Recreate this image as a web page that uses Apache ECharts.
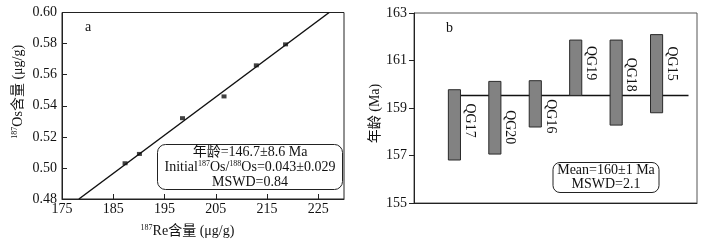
<!DOCTYPE html>
<html>
<head>
<meta charset="utf-8">
<script src="https://cdn.jsdelivr.net/npm/echarts@6/dist/echarts.min.js"></script>
<style>
html,body{margin:0;padding:0;background:#fff;}
#c{width:711px;height:243px;}
</style>
</head>
<body>
<div id="c"></div>
<script>
// ---- Panel a: Re-Os isochron ----
const reContent = [187.3, 190.1, 198.5, 206.6, 212.9, 218.6];
const osContent = [0.503, 0.509, 0.532, 0.546, 0.566, 0.5795];
const isochronRe = [178.3, 227.1];
const isochronOs = [0.48, 0.60];
const reTickLabels = [175, 185, 195, 205, 215, 225];
const reTickMarks = [185, 195, 205, 215, 225];
const osTickLabels = [0.48, 0.50, 0.52, 0.54, 0.56, 0.58, 0.60];

// ---- Panel b: model ages ----
const samples = ['QG17', 'QG20', 'QG16', 'QG19', 'QG18', 'QG15'];
const ageHigh = [159.77, 160.12, 160.15, 161.86, 161.86, 162.09];
const ageLow = [156.81, 157.06, 158.20, 159.53, 158.28, 158.80];
const labelAge = [158.47, 158.19, 158.65, 160.89, 160.40, 160.87];
const ageTickLabels = [155, 157, 159, 161, 163];
const meanAge = 159.53;
const meanSpan = [0.87, 6.79];

const FONT = "'Liberation Serif', 'Noto Sans CJK SC', serif";
const INK = '#111';

const chart = echarts.init(document.getElementById('c'), null, {renderer: 'canvas'});

const scatterData = reContent.map((x, i) => [x, osContent[i]]);
const lineData = isochronRe.map((x, i) => [x, isochronOs[i]]);
const barData = samples.map((s, i) => [i + 1, ageLow[i], ageHigh[i], labelAge[i], s]);

const option = {
  backgroundColor: '#fff',
  animation: false,
  grid: [
    {left: 62, right: 367, top: 12.5, bottom: 41, show: true, borderColor: '#222', borderWidth: 1, backgroundColor: 'transparent'},
    {left: 414, right: 14, top: 13, bottom: 40, show: true, borderColor: '#555', borderWidth: 1, backgroundColor: 'transparent'}
  ],
  xAxis: [
    {
      gridIndex: 0, type: 'value', min: 175, max: 230,
      name: '{s|187}Re含量 (μg/g)', nameLocation: 'middle', nameGap: 25,
      nameTextStyle: {fontFamily: FONT, fontSize: 14, color: INK, padding: [0, 31, 0, 0],
        rich: {s: {fontFamily: FONT, fontSize: 8, color: INK, verticalAlign: 'top', lineHeight: 14}}},
      axisLine: {show: true, lineStyle: {color: '#222', width: 1}},
      axisTick: {show: true, inside: true, length: 5, customValues: reTickMarks, lineStyle: {color: '#222'}},
      axisLabel: {customValues: reTickLabels, margin: 3, fontFamily: FONT, fontSize: 14, color: INK},
      splitLine: {show: false}
    },
    {
      gridIndex: 1, type: 'value', min: 0, max: 7,
      axisLine: {show: true, lineStyle: {color: '#222', width: 1}},
      axisTick: {show: false},
      axisLabel: {show: false},
      splitLine: {show: false}
    }
  ],
  yAxis: [
    {
      gridIndex: 0, type: 'value', min: 0.48, max: 0.60,
      name: '{s|187}Os含量 (μg/g)', nameLocation: 'middle', nameGap: 37,
      nameTextStyle: {fontFamily: FONT, fontSize: 14, color: INK, padding: [0, 0, 0, 28],
        rich: {s: {fontFamily: FONT, fontSize: 8, color: INK, verticalAlign: 'top', lineHeight: 14}}},
      axisLine: {show: true, lineStyle: {color: '#222', width: 1}},
      axisTick: {show: true, inside: true, length: 5, customValues: osTickLabels, lineStyle: {color: '#222'}},
      axisLabel: {customValues: osTickLabels, margin: 5, fontFamily: FONT, fontSize: 14, color: INK,
        formatter: v => v.toFixed(2)},
      splitLine: {show: false}
    },
    {
      gridIndex: 1, type: 'value', min: 155, max: 163,
      name: '年龄 (Ma)', nameLocation: 'middle', nameGap: 32,
      nameTextStyle: {fontFamily: FONT, fontSize: 14, color: INK, padding: [0, 11, 0, 0]},
      axisLine: {show: true, lineStyle: {color: '#222', width: 1}},
      axisTick: {show: true, inside: false, length: 5, customValues: ageTickLabels, lineStyle: {color: '#222'}},
      axisLabel: {customValues: ageTickLabels, margin: 7, fontFamily: FONT, fontSize: 14, color: INK},
      splitLine: {show: false}
    }
  ],
  series: [
    {
      type: 'line', xAxisIndex: 0, yAxisIndex: 0, data: lineData,
      showSymbol: false, symbol: 'none', lineStyle: {color: '#111', width: 1.5}, silent: true, z: 2
    },
    {
      type: 'scatter', xAxisIndex: 0, yAxisIndex: 0, data: scatterData,
      symbol: 'rect', symbolSize: [5, 4], itemStyle: {color: '#111'}, z: 3
    },
    {
      type: 'line', xAxisIndex: 1, yAxisIndex: 1,
      data: meanSpan.map(x => [x, meanAge]),
      showSymbol: false, symbol: 'none', lineStyle: {color: '#111', width: 1.5}, silent: true, z: 2
    },
    {
      type: 'custom', xAxisIndex: 1, yAxisIndex: 1, z: 3,
      encode: {x: 0, y: [1, 2]},
      data: barData,
      renderItem: function (params, api) {
        const x = api.value(0);
        const lo = api.coord([x, api.value(1)]);
        const hi = api.coord([x, api.value(2)]);
        const lab = api.coord([x, api.value(3)]);
        const w = api.size([1, 0])[0] * 0.3;
        return {
          type: 'group',
          children: [
            {
              type: 'rect',
              shape: {x: lo[0] - w / 2, y: hi[1], width: w, height: lo[1] - hi[1]},
              style: {fill: '#828282', stroke: '#2a2a2a', lineWidth: 1}
            },
            {
              type: 'text',
              x: lo[0] + 15, y: lab[1], rotation: -Math.PI / 2,
              style: {text: api.value(4), fontFamily: FONT, fontSize: 14, fill: INK,
                align: 'center', verticalAlign: 'middle'}
            }
          ]
        };
      }
    }
  ],
  graphic: [
    {type: 'text', left: 85, top: 20, style: {text: 'a', fontFamily: FONT, fontSize: 14, fill: INK}},
    {type: 'text', left: 446, top: 21, style: {text: 'b', fontFamily: FONT, fontSize: 14, fill: INK}},
    {
      type: 'rect', shape: {x: 157.5, y: 144.5, width: 185, height: 45, r: 8},
      style: {fill: '#fff', stroke: '#222', lineWidth: 1}, z: 10
    },
    {type: 'text', x: 250, y: 152, z: 11,
      style: {text: '年龄=146.7±8.6 Ma', fontFamily: FONT, fontSize: 14, fill: INK, align: 'center', verticalAlign: 'middle'}},
    {type: 'text', x: 250, y: 167, z: 11,
      style: {text: 'Initial{s|187}Os/{s|188}Os=0.043±0.029', fontFamily: FONT, fontSize: 14, fill: INK,
        align: 'center', verticalAlign: 'middle',
        rich: {s: {fontFamily: FONT, fontSize: 8, fill: INK, verticalAlign: 'top', lineHeight: 14}}}},
    {type: 'text', x: 250, y: 182, z: 11,
      style: {text: 'MSWD=0.84', fontFamily: FONT, fontSize: 14, fill: INK, align: 'center', verticalAlign: 'middle'}},
    {
      type: 'rect', shape: {x: 553, y: 162.5, width: 106, height: 30, r: 7},
      style: {fill: '#fff', stroke: '#222', lineWidth: 1}, z: 10
    },
    {type: 'text', x: 606, y: 170.5, z: 11,
      style: {text: 'Mean=160±1 Ma', fontFamily: FONT, fontSize: 14, fill: INK, align: 'center', verticalAlign: 'middle'}},
    {type: 'text', x: 606, y: 184, z: 11,
      style: {text: 'MSWD=2.1', fontFamily: FONT, fontSize: 14, fill: INK, align: 'center', verticalAlign: 'middle'}}
  ]
};
chart.setOption(option);
</script>
</body>
</html>
